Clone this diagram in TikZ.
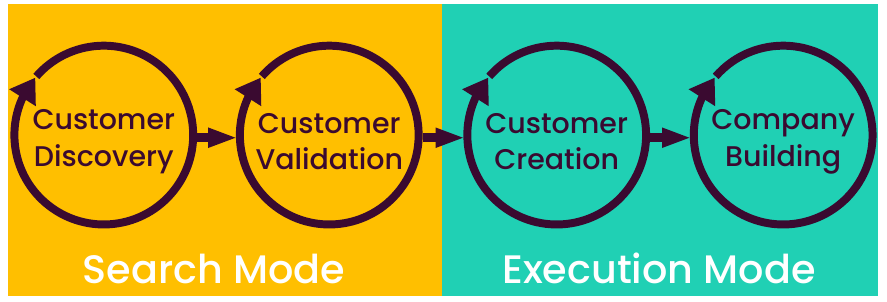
\documentclass[tikz,border=0pt]{standalone}
\usepackage{fontspec}
\setmainfont{Poppins}[UprightFont={* Medium}, BoldFont={* SemiBold}]
\usepackage{tikz}
\usetikzlibrary{positioning,arrows.meta,bending}
\definecolor{searchgold}{HTML}{FFBF00}
\definecolor{execteal}{HTML}{20D0B4}
\definecolor{loopplum}{HTML}{3A0A30}

\begin{document}
\begin{tikzpicture}[
    x=0.75pt, y=0.75pt,
    stage/.style={circle, minimum size=135pt, inner sep=0pt, outer sep=0pt},  % etape
    stagetext/.style={align=center, text=loopplum, inner sep=0pt,
                  font=\fontsize{21.5}{27.75}\selectfont},
    loopline/.style={line width=6pt, color=loopplum,
                  -{Triangle[length=18pt, width=22.5pt]}},                % boucle
    handoff/.style={line width=7pt, color=loopplum, shorten <=3pt, shorten >=1.5pt,
                  -{Triangle[length=22.5pt, width=13.5pt]}},              % passage
    mode/.style={font=\fontsize{30}{36}\selectfont, text=white}
  ]

  % ============ fond et panneaux ==========================================
  \fill[white] (0,0) rectangle (887,304);
  \fill[searchgold] (5,6) rectangle (442,300);
  \fill[execteal] (442,6) rectangle (880,300);

  % ============ les quatre etapes =========================================
  \node[stage] (disc) at (101,168) {};
  \node[stage] (vali) at (328,168) {};
  \node[stage] (crea) at (557,168) {};
  \node[stage] (buil) at (785,168) {};

  \node[stagetext] (disctxt) at ([yshift=-5pt]disc.center) {Customer\\Discovery};
  \node[stagetext] (valitxt) at ([yshift=-5pt]vali.center) {Customer\\Validation};
  \node[stagetext] (creatxt) at ([yshift=-5pt]crea.center) {Customer\\Creation};
  \node[stagetext] (builtxt) at ([yshift=-5pt]buil.center) {Company\\Building};

  \foreach \s in {disc,vali,crea,buil}
    \draw[loopline] (\s.139) arc[start angle=139, end angle=-220, radius=67.5pt];

  % ============ passages d'une etape a l'autre ============================
  \draw[handoff] ([yshift=-2pt]disc.east) -- ([yshift=-2pt]vali.west);
  \draw[handoff] ([yshift=-2pt]vali.east) -- ([yshift=-2pt]crea.west);
  \draw[handoff] ([yshift=-2pt]crea.east) -- ([yshift=-2pt]buil.west);

  % ============ les deux modes ============================================
  \node[mode, anchor=base] (search) at (212,18.5) {Search Mode};
  \node[mode, anchor=base] (exec) at (660,18.5) {Execution Mode};

\end{tikzpicture}
\end{document}
